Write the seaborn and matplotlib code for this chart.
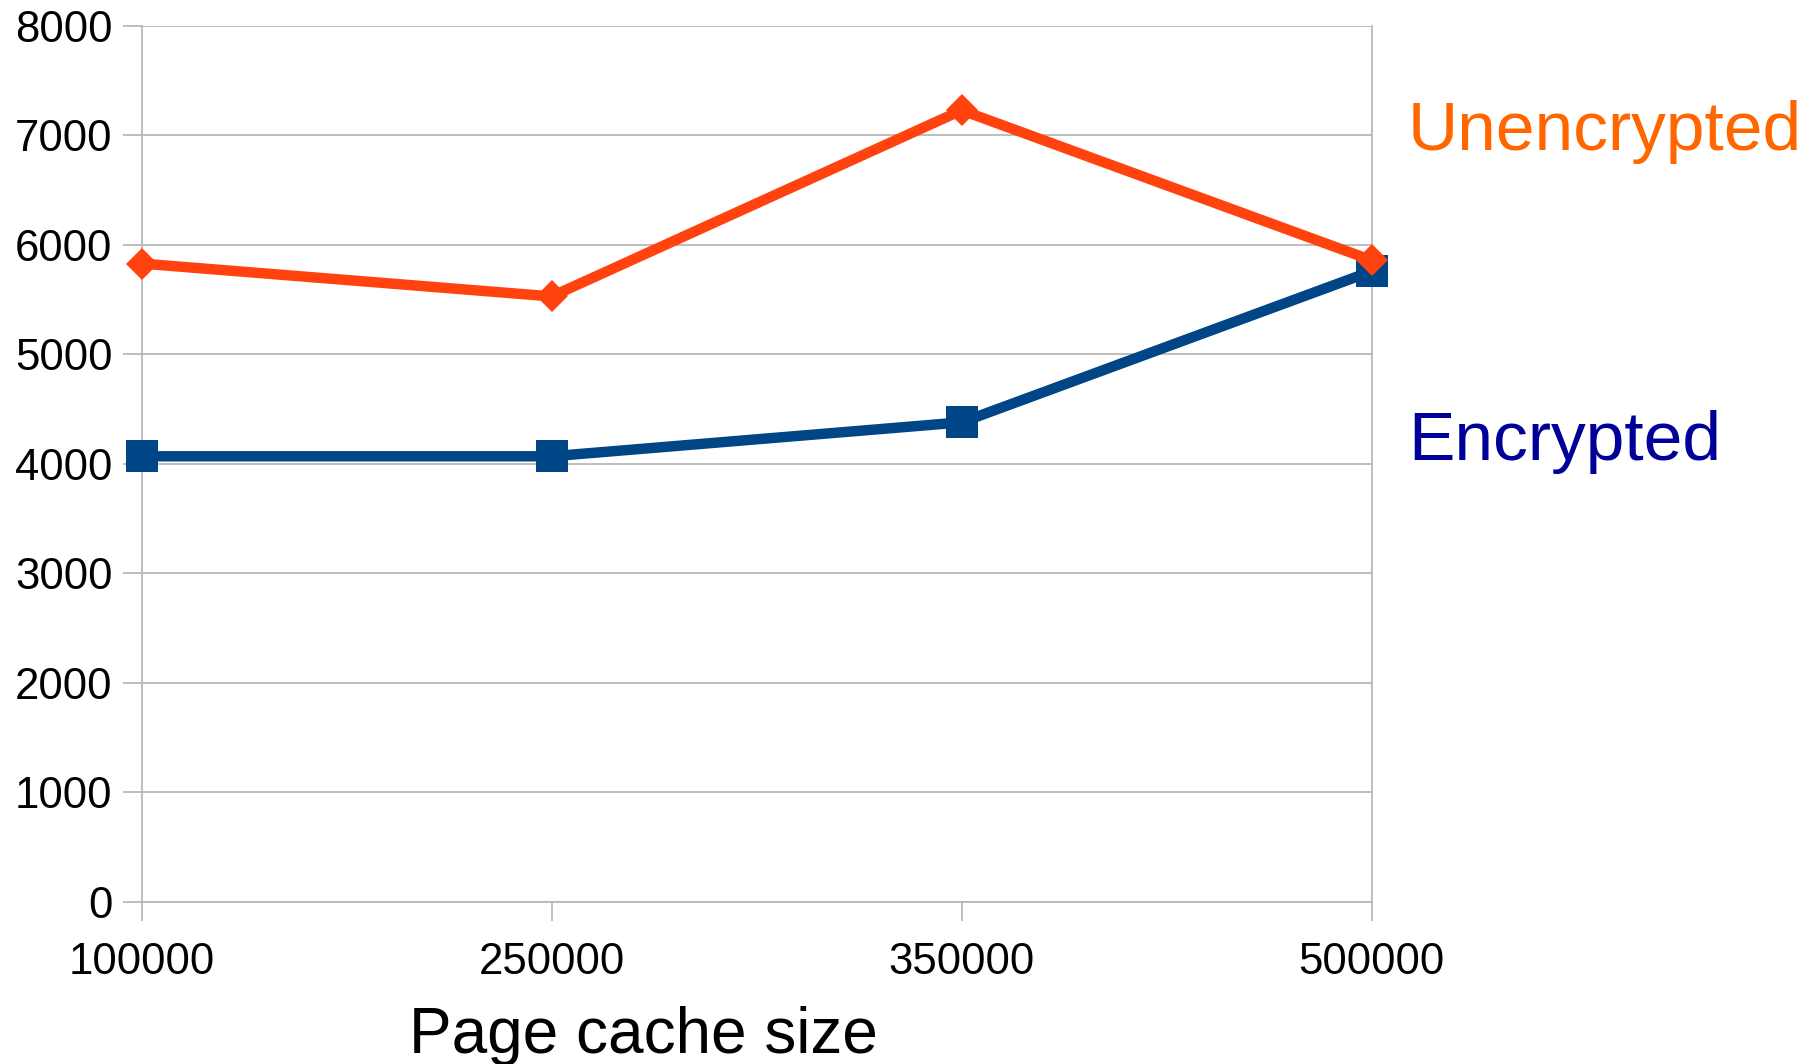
import matplotlib
matplotlib.use("Agg")
import matplotlib.pyplot as plt
import seaborn as sns
import pandas as pd

# Throughput measured at each page cache size
cache_sizes = ["100000", "250000", "350000", "500000"]
unencrypted = [5830, 5530, 7230, 5860]
encrypted = [4070, 4070, 4380, 5760]
y_ticks = [0, 1000, 2000, 3000, 4000, 5000, 6000, 7000, 8000]

sns.set_theme(style="white")
plt.rcParams["font.family"] = ["Liberation Sans", "DejaVu Sans"]

df = pd.DataFrame({
    "cache": cache_sizes * 2,
    "value": encrypted + unencrypted,
    "series": ["Encrypted"] * 4 + ["Unencrypted"] * 4,
})

fig = plt.figure(figsize=(18.16, 10.64), dpi=100)
ax = fig.add_axes([0.078, 0.1523, 0.6773, 0.8233])

grid_col = "#b3b3b3"
for name, col, mk, ms in [("Encrypted", "#004586", "s", 23.5),
                          ("Unencrypted", "#ff420e", "D", 16.5)]:
    sub = df[df["series"] == name]
    sns.lineplot(data=sub, x="cache", y="value", ax=ax, color=col,
                 linewidth=7.5, marker=mk, markersize=ms,
                 markeredgewidth=0, clip_on=False, zorder=3)

ax.set_xlim(0, 3)
ax.set_ylim(0, 8000)
ax.set_yticks(y_ticks)
ax.set_yticklabels([str(v) for v in y_ticks])
ax.yaxis.grid(True, color=grid_col, linewidth=1.2)
ax.xaxis.grid(False)

for side in ["left", "right", "bottom"]:
    ax.spines[side].set_visible(True)
    ax.spines[side].set_color(grid_col)
    ax.spines[side].set_linewidth(1.2)
ax.spines["top"].set_visible(False)

ax.tick_params(axis="y", which="major", length=14, width=1.2, color=grid_col,
               labelsize=31.5, pad=7, left=True, labelcolor="black")
ax.tick_params(axis="x", which="major", length=14, width=1.2, color=grid_col,
               labelsize=31.5, pad=15, bottom=True, labelcolor="black")

ax.set_ylabel("")
ax.set_xlabel("Page cache size", fontsize=46, color="black")
ax.xaxis.label.set_va("baseline")
ax.xaxis.set_label_coords(0.408, -0.1724)

fig.text(0.7753, 0.859, "Unencrypted", color="#ff6600", fontsize=50,
         va="baseline", ha="left")
fig.text(0.7753, 0.5677, "Encrypted", color="#000099", fontsize=50,
         va="baseline", ha="left")

fig.savefig("out.png", dpi=100, facecolor="white")
